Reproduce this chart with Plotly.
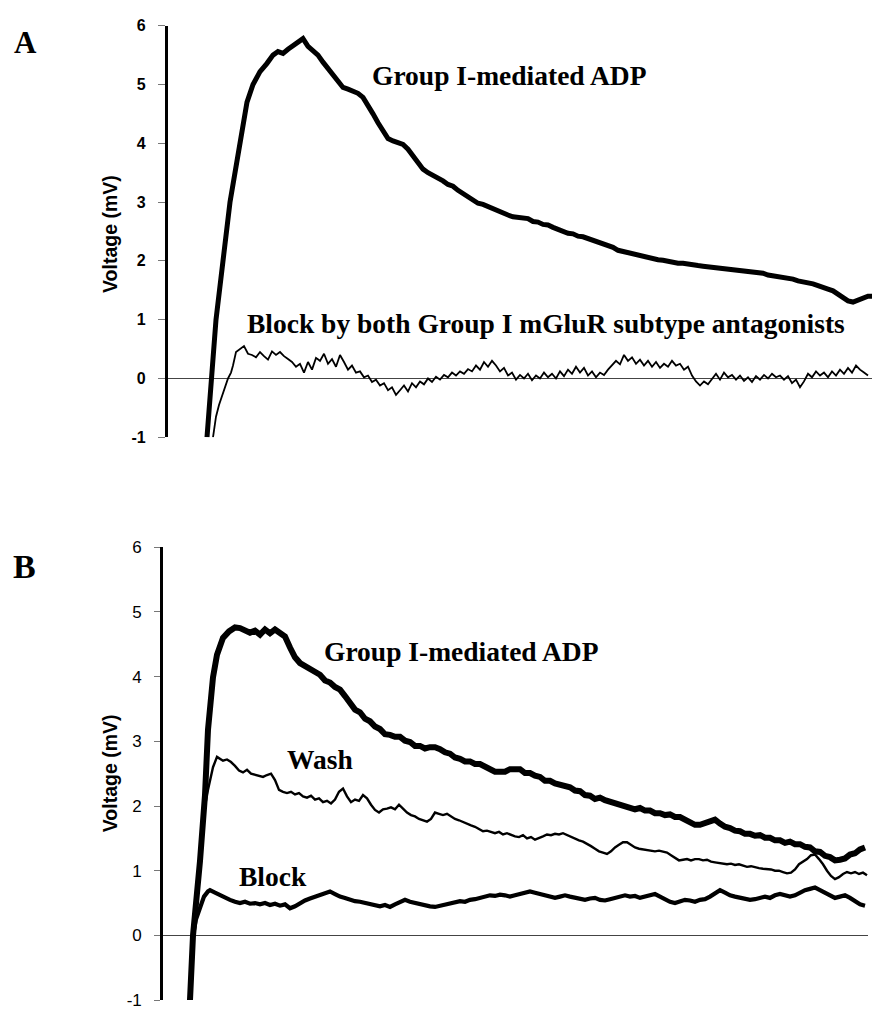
import numpy as np
import plotly.graph_objects as go

# ---------------- DATA ----------------
# time axis in arbitrary sweep units (0 = y-axis position)
Y_TICKS = [-1, 0, 1, 2, 3, 4, 5, 6]
Y_TICK_TEXT = ["-1", "0", "1", "2", "3", "4", "5", "6"]

# Panel A: Group I-mediated ADP (thick)
a_main_rise_t = [39, 44, 48, 55, 62, 72, 79, 85, 92, 99, 105, 110, 115, 120, 125, 130, 135]
a_main_rise_v = [-1.0, 0.0, 1.0, 2.0, 3.0, 4.0, 4.7, 5.0, 5.22, 5.36, 5.5, 5.56, 5.53, 5.6, 5.66, 5.7, 5.78]
A_MAIN_T0, A_MAIN_DT = 140, 5
a_main_body_v = [
    5.65, 5.58, 5.50, 5.38, 5.27, 5.18, 5.05, 4.95, 4.92, 4.88,
    4.85, 4.78, 4.62, 4.50, 4.35, 4.20, 4.08, 4.04, 4.02, 3.98,
    3.90, 3.78, 3.65, 3.56, 3.50, 3.46, 3.40, 3.36, 3.30, 3.27,
    3.20, 3.15, 3.08, 3.03, 2.98, 2.96, 2.92, 2.89, 2.84, 2.81,
    2.78, 2.75, 2.74, 2.71, 2.72, 2.67, 2.66, 2.62, 2.61, 2.57,
    2.53, 2.51, 2.47, 2.46, 2.42, 2.41, 2.38, 2.36, 2.32, 2.31,
    2.26, 2.23, 2.18, 2.16, 2.12, 2.11, 2.08, 2.07, 2.04, 2.04,
    2.02, 2.01, 1.99, 1.98, 1.96, 1.96, 1.94, 1.94, 1.92, 1.91,
    1.90, 1.90, 1.88, 1.88, 1.86, 1.86, 1.84, 1.84, 1.82, 1.82,
    1.80, 1.79, 1.76, 1.75, 1.72, 1.72, 1.70, 1.69, 1.66, 1.65,
    1.62, 1.61, 1.58, 1.56, 1.52, 1.49, 1.44, 1.38, 1.32, 1.30,
    1.34, 1.38, 1.40, 1.40,
]

# Panel A: Block by both antagonists (thin, noisy)
a_block_rise_t = [45, 48, 51, 54, 57, 60, 63, 65]
a_block_rise_v = [-1.0, -0.65, -0.45, -0.3, -0.12, 0.0, 0.1, 0.22]
A_BLOCK_T0, A_BLOCK_DT = 68, 4
a_block_body_v = [
    0.45, 0.50, 0.55, 0.42, 0.40, 0.36, 0.45, 0.38, 0.32, 0.46,
    0.40, 0.45, 0.38, 0.33, 0.28, 0.20, 0.25, 0.10, 0.28, 0.15,
    0.35, 0.30, 0.42, 0.25, 0.33, 0.20, 0.40, 0.28, 0.15, 0.22,
    0.10, 0.12, 0.02, 0.05, -0.06, -0.02, -0.12, -0.08, -0.20, -0.15,
    -0.28, -0.20, -0.12, -0.22, -0.08, -0.15, -0.05, -0.10, 0.00, -0.06,
    0.03, -0.02, 0.06, 0.02, 0.10, 0.05, 0.12, 0.08, 0.16, 0.12,
    0.22, 0.15, 0.28, 0.20, 0.30, 0.22, 0.12, 0.18, 0.05, 0.10,
    -0.02, 0.06, 0.00, 0.08, -0.03, 0.05, 0.00, 0.10, 0.02, 0.08,
    0.00, 0.12, 0.04, 0.15, 0.08, 0.20, 0.10, 0.18, 0.05, 0.12,
    0.02, 0.10, 0.06, 0.15, 0.22, 0.30, 0.24, 0.40, 0.30, 0.36,
    0.25, 0.32, 0.22, 0.30, 0.20, 0.28, 0.18, 0.25, 0.20, 0.30,
    0.22, 0.25, 0.15, 0.20, 0.05, -0.05, -0.12, -0.05, -0.10, 0.00,
    0.08, -0.02, 0.10, 0.02, 0.06, -0.02, 0.05, -0.04, 0.02, -0.06,
    0.04, -0.02, 0.06, 0.00, 0.08, 0.02, 0.05, -0.02, 0.04, -0.08,
    -0.02, -0.15, -0.05, 0.08, 0.02, 0.12, 0.05, 0.10, 0.02, 0.12,
    0.05, 0.15, 0.08, 0.18, 0.10, 0.22, 0.15, 0.10, 0.05,
]

# Panel B: Group I-mediated ADP (thick)
b_main_rise_t = [27, 30, 37, 42, 45, 50, 54, 60, 66, 72]
b_main_rise_v = [-1.0, 0.0, 1.15, 2.17, 3.18, 3.99, 4.34, 4.6, 4.7, 4.76]
B_MAIN_T0, B_MAIN_DT = 77, 5
b_main_body_v = [
    4.75, 4.71, 4.68, 4.71, 4.65, 4.73, 4.67, 4.73, 4.66, 4.62,
    4.45, 4.30, 4.21, 4.17, 4.13, 4.07, 4.03, 3.94, 3.91, 3.84,
    3.80, 3.70, 3.61, 3.49, 3.45, 3.35, 3.31, 3.23, 3.19, 3.11,
    3.10, 3.07, 3.07, 3.01, 2.99, 2.93, 2.93, 2.89, 2.91, 2.91,
    2.88, 2.83, 2.81, 2.75, 2.73, 2.69, 2.69, 2.65, 2.65, 2.61,
    2.58, 2.53, 2.53, 2.53, 2.57, 2.57, 2.57, 2.51, 2.51, 2.47,
    2.45, 2.39, 2.39, 2.35, 2.33, 2.29, 2.29, 2.24, 2.23, 2.17,
    2.16, 2.11, 2.13, 2.09, 2.07, 2.03, 2.03, 1.99, 1.99, 1.95,
    1.97, 1.93, 1.93, 1.89, 1.89, 1.86, 1.87, 1.83, 1.83, 1.79,
    1.76, 1.71, 1.71, 1.73, 1.76, 1.79, 1.73, 1.68, 1.66, 1.62,
    1.61, 1.57, 1.57, 1.54, 1.55, 1.51, 1.51, 1.47, 1.47, 1.43,
    1.45, 1.41, 1.41, 1.37, 1.36, 1.30, 1.29, 1.23, 1.21, 1.16,
    1.17, 1.19, 1.25, 1.27, 1.33, 1.36,
]

# Panel B: Wash (thin)
b_wash_rise_t = [27, 30, 37, 40, 42, 45, 50, 54]
b_wash_rise_v = [-1.0, 0.0, 1.15, 1.75, 2.0, 2.25, 2.6, 2.76]
B_WASH_T0, B_WASH_DT = 56, 4
b_wash_body_v = [
    2.74, 2.70, 2.72, 2.68, 2.62, 2.55, 2.52, 2.56, 2.50, 2.48,
    2.46, 2.45, 2.48, 2.50, 2.40, 2.25, 2.22, 2.20, 2.22, 2.18,
    2.20, 2.15, 2.13, 2.16, 2.10, 2.12, 2.06, 2.08, 2.04, 2.10,
    2.22, 2.27, 2.15, 2.06, 2.10, 2.08, 2.17, 2.12, 2.02, 1.94,
    1.90, 1.95, 1.96, 1.98, 1.95, 2.02, 1.96, 1.90, 1.86, 1.84,
    1.80, 1.78, 1.76, 1.80, 1.90, 1.88, 1.86, 1.88, 1.84, 1.80,
    1.78, 1.75, 1.72, 1.70, 1.68, 1.64, 1.61, 1.62, 1.60, 1.58,
    1.60, 1.56, 1.58, 1.55, 1.53, 1.52, 1.55, 1.50, 1.52, 1.48,
    1.50, 1.53, 1.56, 1.55, 1.57, 1.56, 1.58, 1.55, 1.52, 1.50,
    1.47, 1.45, 1.42, 1.38, 1.34, 1.30, 1.28, 1.26, 1.30, 1.36,
    1.40, 1.44, 1.44, 1.40, 1.36, 1.34, 1.33, 1.32, 1.30, 1.30,
    1.31, 1.29, 1.28, 1.24, 1.20, 1.16, 1.17, 1.18, 1.16, 1.18,
    1.18, 1.16, 1.17, 1.14, 1.13, 1.12, 1.12, 1.10, 1.11, 1.09,
    1.10, 1.08, 1.06, 1.07, 1.05, 1.04, 1.03, 1.03, 1.02, 1.00,
    1.00, 0.98, 0.96, 0.97, 1.02, 1.10, 1.14, 1.18, 1.24, 1.25,
    1.18, 1.10, 1.00, 0.92, 0.87, 0.90, 0.95, 0.98, 0.96, 0.98,
    0.95, 0.97, 0.93,
]

# Panel B: Block (medium)
b_block_rise_t = [27, 30, 33, 37, 41, 45]
b_block_rise_v = [-1.0, 0.0, 0.25, 0.45, 0.6, 0.68]
B_BLOCK_T0, B_BLOCK_DT = 47, 5
b_block_body_v = [
    0.70, 0.66, 0.62, 0.58, 0.55, 0.52, 0.50, 0.52, 0.49, 0.50,
    0.48, 0.50, 0.47, 0.49, 0.46, 0.48, 0.42, 0.45, 0.50, 0.54,
    0.57, 0.60, 0.62, 0.66, 0.68, 0.64, 0.60, 0.58, 0.55, 0.53,
    0.52, 0.50, 0.48, 0.46, 0.45, 0.47, 0.44, 0.48, 0.52, 0.55,
    0.52, 0.50, 0.48, 0.46, 0.45, 0.44, 0.46, 0.48, 0.50, 0.51,
    0.53, 0.52, 0.55, 0.56, 0.58, 0.60, 0.62, 0.61, 0.63, 0.62,
    0.60, 0.62, 0.64, 0.66, 0.68, 0.66, 0.64, 0.62, 0.60, 0.58,
    0.60, 0.62, 0.60, 0.58, 0.56, 0.55, 0.57, 0.58, 0.55, 0.54,
    0.56, 0.58, 0.60, 0.62, 0.60, 0.61, 0.58, 0.60, 0.62, 0.64,
    0.60, 0.56, 0.52, 0.50, 0.52, 0.55, 0.54, 0.52, 0.55, 0.56,
    0.60, 0.66, 0.70, 0.66, 0.62, 0.60, 0.58, 0.56, 0.55, 0.56,
    0.58, 0.60, 0.58, 0.62, 0.64, 0.62, 0.60, 0.62, 0.66, 0.70,
    0.72, 0.74, 0.70, 0.66, 0.62, 0.58, 0.60, 0.62, 0.58, 0.52,
    0.48, 0.46,
]


def series(rise_t, rise_v, t0, dt, body_v):
    t = list(rise_t) + [t0 + dt * i for i in range(len(body_v))]
    v = list(rise_v) + list(body_v)
    return t, v


# ---------------- FIGURE ----------------
W, H = 873, 1015


def px_x(p):
    return p / W


def px_y(p):
    return 1 - p / H


fig = go.Figure()

traces = [
    ("x", "y", series(a_main_rise_t, a_main_rise_v, A_MAIN_T0, A_MAIN_DT, a_main_body_v), 5),
    ("x", "y", series(a_block_rise_t, a_block_rise_v, A_BLOCK_T0, A_BLOCK_DT, a_block_body_v), 1.8),
    ("x2", "y2", series(b_main_rise_t, b_main_rise_v, B_MAIN_T0, B_MAIN_DT, b_main_body_v), 6),
    ("x2", "y2", series(b_wash_rise_t, b_wash_rise_v, B_WASH_T0, B_WASH_DT, b_wash_body_v), 2.4),
    ("x2", "y2", series(b_block_rise_t, b_block_rise_v, B_BLOCK_T0, B_BLOCK_DT, b_block_body_v), 4.2),
]
for xa, ya, (t, v), w in traces:
    fig.add_trace(go.Scatter(x=t, y=v, xaxis=xa, yaxis=ya, mode="lines",
                             line=dict(color="black", width=w), hoverinfo="skip"))

xcommon = dict(visible=False, showgrid=False, zeroline=False)
fig.update_layout(
    width=W, height=H, margin=dict(l=0, r=0, t=0, b=0),
    paper_bgcolor="white", plot_bgcolor="white", showlegend=False,
    xaxis=dict(domain=[px_x(168), px_x(872)], range=[0, 704], **xcommon),
    xaxis2=dict(domain=[px_x(163), px_x(868)], range=[0, 705], anchor="y2", **xcommon),
    yaxis=dict(domain=[px_y(436), px_y(17)], range=[-1, 6],
               tickvals=Y_TICKS, ticktext=Y_TICK_TEXT,
               ticks="outside", ticklen=7, tickwidth=1, tickcolor="#777",
               showline=True, linewidth=3.2, linecolor="black", showgrid=False,
               zeroline=True, zerolinecolor="#444", zerolinewidth=1,
               ticklabelstandoff=9,
               tickfont=dict(family="Liberation Sans, Arial", size=16, color="black", weight="bold"),
               anchor="x"),
    yaxis2=dict(domain=[px_y(1009), px_y(548)], range=[-1, 6],
                tickvals=Y_TICKS, ticktext=Y_TICK_TEXT,
                ticks="outside", ticklen=6, tickwidth=1, tickcolor="#777",
                showline=True, linewidth=2.6, linecolor="black", showgrid=False,
                zeroline=True, zerolinecolor="#444", zerolinewidth=1,
                ticklabelstandoff=9,
                tickfont=dict(family="Liberation Sans, Arial", size=17, color="black"),
                anchor="x2"),
)

serif = "Liberation Serif, Times New Roman, serif"
sans = "Liberation Sans, Arial, sans-serif"
annots = [
    ("<b>A</b>", 12, 34, 31),
    ("<b>B</b>", 11, 568, 34),
    ("<b>Group I-mediated ADP</b>", 370, 68, 27.5),
    ("<b>Block by both Group I mGluR subtype antagonists</b>", 245, 320, 27.5),
    ("<b>Group I-mediated ADP</b>", 322, 654, 27.5),
    ("<b>Wash</b>", 285, 764, 27.5),
    ("<b>Block</b>", 237, 883, 27.5),
]
for text, x, y, size in annots:
    fig.add_annotation(text=text, x=px_x(x), y=px_y(y), xref="paper", yref="paper",
                       xanchor="left", yanchor="middle", showarrow=False,
                       font=dict(family=serif, size=size, color="black"))

for yc in (229, 778):
    fig.add_annotation(text="<b>Voltage (mV)</b>", x=px_x(110), y=px_y(yc), xref="paper", yref="paper",
                       xanchor="center", yanchor="middle", textangle=-90, showarrow=False,
                       font=dict(family=sans, size=19.5, color="black"))

fig.write_html("out.html")
